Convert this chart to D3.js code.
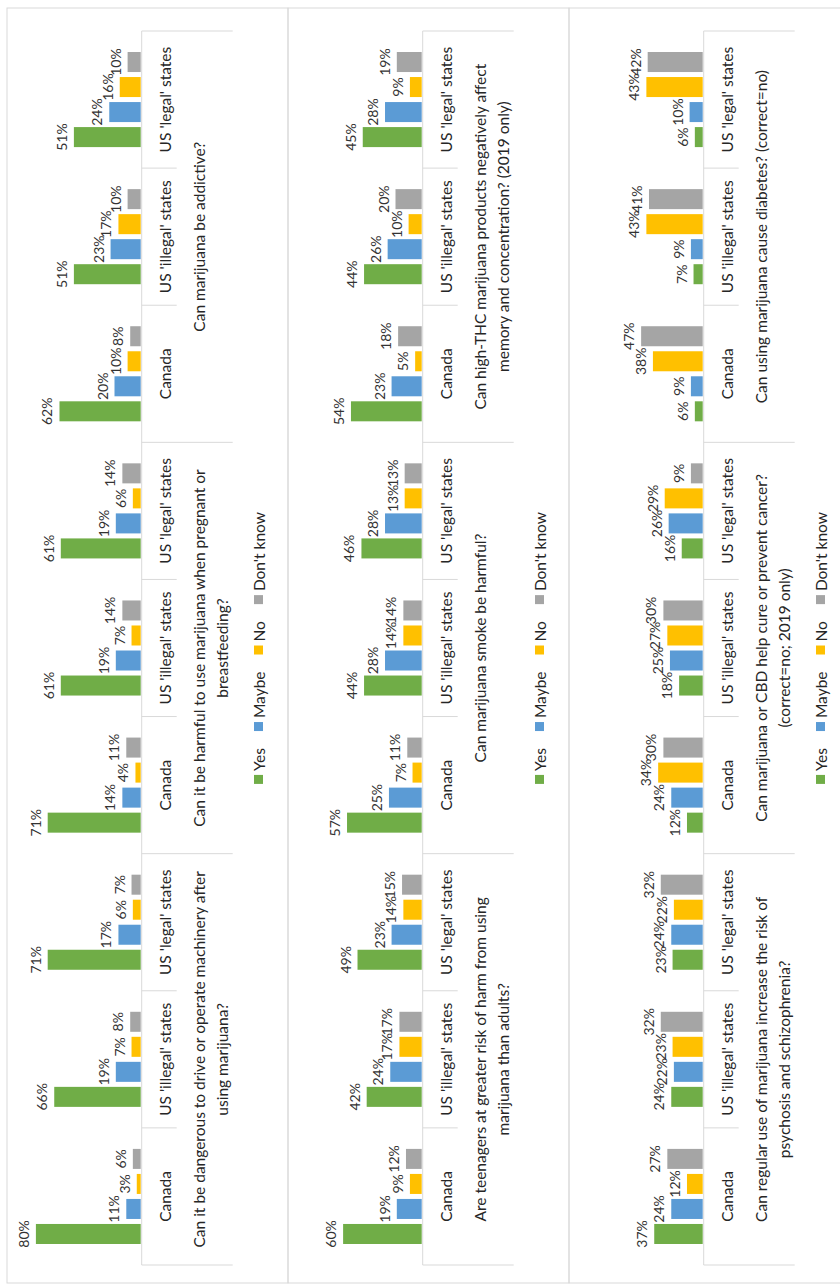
<!DOCTYPE html>
<html>
<head>
<meta charset="utf-8">
<script src="https://cdn.jsdelivr.net/npm/d3@7/dist/d3.min.js"></script>
<style>
    body { margin: 0; background: #fff; }
    text { font-family: Lato, "Open Sans", sans-serif; fill: #262626; }
</style>
</head>
<body>
<svg id="chart" width="840" height="1284"></svg>
<script>
// series and colours
var series = ["Yes", "Maybe", "No", "Don't know"];
var colors = ["#70AD47", "#5B9BD5", "#FFC000", "#A5A5A5"];
var regions = ["Canada", "US 'illegal' states", "US 'legal' states"];

// questions, one array per chart (long ones split in two lines)
var questions1 = [
    ["Can it be dangerous to drive or operate machinery after", "using marijuana?"],
    ["Can it be harmful to use marijuana when pregnant or", "breastfeeding?"],
    ["Can marijuana be addictive?"]
];
var questions2 = [
    ["Are teenagers at greater risk of harm from using", "marijuana than adults?"],
    ["Can marijuana smoke be harmful?"],
    ["Can high-THC marijuana products negatively affect", "memory and concentration? (2019 only)"]
];
var questions3 = [
    ["Can regular use of marijuana increase the risk of", "psychosis and schizophrenia?"],
    ["Can marijuana or CBD help cure or prevent cancer?", "(correct=no; 2019 only)"],
    ["Can using marijuana cause diabetes? (correct=no)"]
];

// values in %, one row per region: Yes, Maybe, No, Don't know
var values1 = [
    [80, 11, 3, 6], [66, 19, 7, 8], [71, 17, 6, 7],
    [71, 14, 4, 11], [61, 19, 7, 14], [61, 19, 6, 14],
    [62, 20, 10, 8], [51, 23, 17, 10], [51, 24, 16, 10]
];
var values2 = [
    [60, 19, 9, 12], [42, 24, 17, 17], [49, 23, 14, 15],
    [57, 25, 7, 11], [44, 28, 14, 14], [46, 28, 13, 13],
    [54, 23, 5, 18], [44, 26, 10, 20], [45, 28, 9, 19]
];
var values3 = [
    [37, 24, 12, 27], [24, 22, 23, 32], [23, 24, 22, 32],
    [12, 24, 34, 30], [18, 25, 27, 30], [16, 26, 29, 9],
    [6, 9, 38, 47], [7, 9, 43, 41], [6, 10, 43, 42]
];

var panels = [
    {questions: questions1, values: values1, top: 7},
    {questions: questions2, values: values2, top: 288},
    {questions: questions3, values: values3, top: 569}
];

// the chart is drawn landscape (1284 x 840) and turned a quarter to the left
var W = 1284, H = 840;
var svg = d3.select("#chart");
var root = svg.append("g").attr("transform", "translate(0," + W + ") rotate(-90)");

var plotLeft = 19, plotRight = 1253;
var lineColor = "#d9d9d9";
var fontSize = "15.5px";

var buildPanel = function(p) {
    var g = root.append("g");
    var base = p.top + 133.7;

    // panel border
    g.append("rect")
        .attr("x", 1).attr("y", p.top)
        .attr("width", 1275).attr("height", 281)
        .attr("fill", "none")
        .attr("stroke", lineColor);

    var cats = [];
    p.values.forEach(function(d, i) { cats.push(i); });

    var x0 = d3.scaleBand().domain(cats).range([plotLeft, plotRight]);
    var bw = x0.bandwidth();
    var x1 = d3.scaleBand().domain(series)
        .range([bw * 0.135, bw * 0.865])
        .paddingInner(0.2).paddingOuter(0.1);
    var y = d3.scaleLinear().domain([0, 100]).range([base, base - 131]);

    // bars
    var groups = g.selectAll("g.cat")
        .data(p.values).enter()
        .append("g")
        .attr("class", "cat")
        .attr("transform", function(d, i) { return "translate(" + x0(i) + ",0)"; });

    groups.selectAll("rect")
        .data(function(d) { return d.map(function(v, j) { return {v: v, s: series[j], c: colors[j]}; }); })
        .enter()
        .append("rect")
        .attr("x", function(d) { return x1(d.s); })
        .attr("width", x1.bandwidth())
        .attr("y", function(d) { return y(d.v); })
        .attr("height", function(d) { return y(0) - y(d.v); })
        .attr("fill", function(d) { return d.c; });

    // data labels
    groups.selectAll("text.lbl")
        .data(function(d) { return d.map(function(v, j) { return {v: v, s: series[j]}; }); })
        .enter()
        .append("text")
        .attr("class", "lbl")
        .attr("text-anchor", "middle")
        .attr("x", function(d) { return x1(d.s) + x1.bandwidth() / 2; })
        .attr("y", function(d) { return y(d.v) - 7; })
        .style("font-size", "14px")
        .style("fill", "#333")
        .text(function(d) { return d.v + "%"; });

    // category axis line and dividers
    g.append("line")
        .attr("x1", plotLeft).attr("x2", plotRight)
        .attr("y1", base + 1).attr("y2", base + 1)
        .attr("stroke", lineColor);
    for (var k = 0; k <= cats.length; k++) {
        var xx = k < cats.length ? x0(k) : plotRight;
        var len = (k % 3 == 0) ? 91 : 35;
        g.append("line")
            .attr("x1", xx).attr("x2", xx)
            .attr("y1", base + 1).attr("y2", base + 1 + len)
            .attr("stroke", lineColor);
    }

    // region names
    g.selectAll("text.region")
        .data(cats).enter()
        .append("text")
        .attr("class", "region")
        .attr("text-anchor", "middle")
        .attr("dominant-baseline", "central")
        .attr("x", function(d) { return x0(d) + bw / 2; })
        .attr("y", base + 24)
        .style("font-size", fontSize)
        .text(function(d) { return regions[d % 3]; });

    // questions
    p.questions.forEach(function(lines, q) {
        var cx = x0(q * 3) + bw * 1.5;
        lines.forEach(function(line, li) {
            g.append("text")
                .attr("text-anchor", "middle")
                .attr("dominant-baseline", "central")
                .attr("x", cx)
                .attr("y", base + 58.5 + li * 22.3)
                .style("font-size", fontSize)
                .text(line);
        });
    });

    // legend, centred under the plot
    var legend = g.append("g");
    var lx = 0;
    series.forEach(function(s, j) {
        legend.append("rect")
            .attr("x", lx).attr("y", p.top + 247)
            .attr("width", 9).attr("height", 9)
            .attr("fill", colors[j]);
        var t = legend.append("text")
            .attr("x", lx + 13)
            .attr("y", p.top + 251.5)
            .attr("dominant-baseline", "central")
            .style("font-size", fontSize)
            .text(s);
        lx += 13 + t.node().getComputedTextLength() + 17;
    });
    lx -= 17;
    legend.attr("transform", "translate(" + ((plotLeft + plotRight) / 2 - lx / 2) + ",0)");
};

panels.forEach(buildPanel);
</script>
</body>
</html>
